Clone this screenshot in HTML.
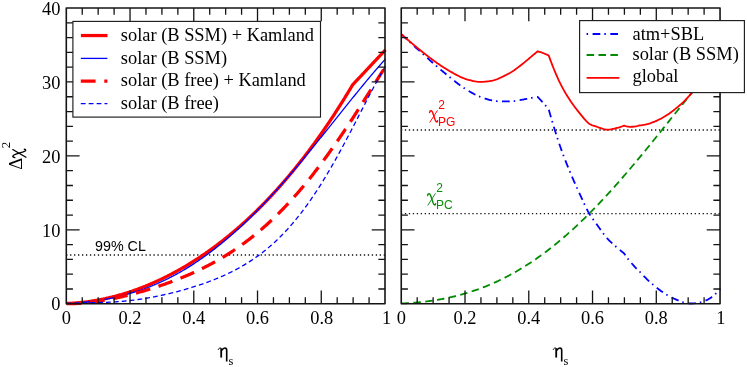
<!DOCTYPE html>
<html><head><meta charset="utf-8"><style>
html,body{margin:0;padding:0;background:#fff;}
svg{display:block;will-change:transform;transform:translateZ(0)}
text{font-family:"Liberation Serif",serif;font-size:18.4px;fill:#000}
.sans{font-family:"Liberation Sans",sans-serif}
</style></head><body>
<svg width="747" height="367" viewBox="0 0 747 367">
<rect width="747" height="367" fill="#fff"/>
<!-- left curves -->
<g fill="none" stroke-linejoin="round">
<path d="M66.3,255.0 H385.0" stroke="#111" stroke-width="1.4" stroke-dasharray="1.3 2.67" stroke-dashoffset="0.2"/>
<path d="M66.50,303.50 L67.30,303.47 L68.09,303.44 L68.89,303.41 L69.69,303.37 L70.49,303.33 L71.28,303.29 L72.08,303.24 L72.88,303.19 L73.68,303.14 L74.47,303.09 L75.27,303.03 L76.07,302.97 L76.87,302.90 L77.67,302.83 L78.46,302.76 L79.26,302.69 L80.06,302.61 L80.86,302.53 L81.65,302.45 L82.45,302.36 L83.25,302.27 L84.05,302.18 L84.84,302.09 L85.64,301.99 L86.44,301.89 L87.23,301.78 L88.03,301.68 L88.83,301.56 L89.63,301.45 L90.42,301.33 L91.22,301.22 L92.02,301.09 L92.82,300.97 L93.62,300.84 L94.41,300.71 L95.21,300.57 L96.01,300.44 L96.81,300.30 L97.60,300.15 L98.40,300.01 L99.20,299.86 L100.00,299.70 L100.79,299.55 L101.59,299.39 L102.39,299.23 L103.19,299.07 L103.98,298.90 L104.78,298.73 L105.58,298.55 L106.38,298.38 L107.17,298.20 L107.97,298.02 L108.77,297.83 L109.56,297.64 L110.36,297.45 L111.16,297.26 L111.96,297.06 L112.75,296.86 L113.55,296.66 L114.35,296.46 L115.15,296.25 L115.94,296.04 L116.74,295.82 L117.54,295.60 L118.34,295.38 L119.14,295.16 L119.93,294.93 L120.73,294.70 L121.53,294.47 L122.33,294.24 L123.12,294.00 L123.92,293.76 L124.72,293.51 L125.52,293.27 L126.31,293.02 L127.11,292.77 L127.91,292.51 L128.71,292.25 L129.50,291.99 L130.30,291.73 L131.10,291.46 L131.90,291.19 L132.69,290.92 L133.49,290.64 L134.29,290.36 L135.08,290.08 L135.88,289.79 L136.68,289.51 L137.48,289.21 L138.28,288.92 L139.07,288.62 L139.87,288.32 L140.67,288.02 L141.47,287.72 L142.26,287.41 L143.06,287.10 L143.86,286.78 L144.66,286.46 L145.45,286.14 L146.25,285.82 L147.05,285.50 L147.84,285.17 L148.64,284.83 L149.44,284.50 L150.24,284.16 L151.04,283.82 L151.83,283.48 L152.63,283.13 L153.43,282.78 L154.23,282.43 L155.02,282.07 L155.82,281.71 L156.62,281.35 L157.42,280.98 L158.21,280.62 L159.01,280.25 L159.81,279.87 L160.60,279.50 L161.40,279.12 L162.20,278.73 L163.00,278.35 L163.80,277.96 L164.59,277.57 L165.39,277.17 L166.19,276.77 L166.99,276.37 L167.78,275.97 L168.58,275.56 L169.38,275.15 L170.18,274.74 L170.97,274.32 L171.77,273.91 L172.57,273.48 L173.37,273.06 L174.16,272.63 L174.96,272.20 L175.76,271.76 L176.56,271.33 L177.35,270.89 L178.15,270.44 L178.95,270.00 L179.75,269.55 L180.54,269.09 L181.34,268.64 L182.14,268.18 L182.94,267.72 L183.73,267.25 L184.53,266.78 L185.33,266.31 L186.12,265.84 L186.92,265.36 L187.72,264.88 L188.52,264.40 L189.31,263.91 L190.11,263.42 L190.91,262.93 L191.71,262.43 L192.50,261.93 L193.30,261.43 L194.10,260.92 L194.90,260.41 L195.70,259.90 L196.49,259.38 L197.29,258.86 L198.09,258.34 L198.89,257.82 L199.68,257.29 L200.48,256.76 L201.28,256.22 L202.07,255.68 L202.87,255.14 L203.67,254.60 L204.47,254.05 L205.26,253.50 L206.06,252.95 L206.86,252.39 L207.66,251.83 L208.46,251.26 L209.25,250.69 L210.05,250.12 L210.85,249.55 L211.65,248.97 L212.44,248.39 L213.24,247.81 L214.04,247.22 L214.84,246.63 L215.63,246.03 L216.43,245.44 L217.23,244.84 L218.03,244.23 L218.82,243.62 L219.62,243.01 L220.42,242.40 L221.22,241.78 L222.01,241.16 L222.81,240.53 L223.61,239.91 L224.41,239.27 L225.20,238.64 L226.00,238.00 L226.80,237.36 L227.59,236.71 L228.39,236.06 L229.19,235.41 L229.99,234.76 L230.78,234.10 L231.58,233.43 L232.38,232.77 L233.18,232.10 L233.97,231.42 L234.77,230.74 L235.57,230.06 L236.37,229.38 L237.17,228.69 L237.96,228.00 L238.76,227.30 L239.56,226.60 L240.36,225.90 L241.15,225.20 L241.95,224.49 L242.75,223.77 L243.55,223.06 L244.34,222.33 L245.14,221.61 L245.94,220.88 L246.74,220.15 L247.53,219.41 L248.33,218.67 L249.13,217.93 L249.93,217.18 L250.72,216.43 L251.52,215.68 L252.32,214.92 L253.11,214.16 L253.91,213.39 L254.71,212.62 L255.51,211.85 L256.30,211.07 L257.10,210.29 L257.90,209.50 L258.70,208.72 L259.50,207.92 L260.29,207.13 L261.09,206.33 L261.89,205.52 L262.69,204.71 L263.48,203.90 L264.28,203.08 L265.08,202.26 L265.88,201.44 L266.67,200.61 L267.47,199.78 L268.27,198.94 L269.06,198.10 L269.86,197.26 L270.66,196.41 L271.46,195.55 L272.25,194.70 L273.05,193.84 L273.85,192.97 L274.65,192.10 L275.45,191.23 L276.24,190.35 L277.04,189.47 L277.84,188.58 L278.63,187.69 L279.43,186.80 L280.23,185.90 L281.03,185.00 L281.83,184.09 L282.62,183.18 L283.42,182.26 L284.22,181.34 L285.01,180.42 L285.81,179.49 L286.61,178.56 L287.41,177.62 L288.21,176.68 L289.00,175.74 L289.80,174.79 L290.60,173.83 L291.39,172.87 L292.19,171.91 L292.99,170.94 L293.79,169.97 L294.58,168.99 L295.38,168.01 L296.18,167.02 L296.98,166.03 L297.77,165.04 L298.57,164.04 L299.37,163.04 L300.17,162.03 L300.97,161.02 L301.76,160.00 L302.56,158.98 L303.36,157.95 L304.15,156.92 L304.95,155.88 L305.75,154.84 L306.55,153.79 L307.35,152.74 L308.14,151.69 L308.94,150.63 L309.74,149.56 L310.53,148.50 L311.33,147.42 L312.13,146.34 L312.93,145.26 L313.73,144.17 L314.52,143.08 L315.32,141.98 L316.12,140.87 L316.92,139.77 L317.71,138.65 L318.51,137.54 L319.31,136.41 L320.11,135.28 L320.90,134.15 L321.70,133.01 L322.50,131.87 L323.30,130.72 L324.09,129.57 L324.89,128.41 L325.69,127.25 L326.49,126.08 L327.28,124.91 L328.08,123.73 L328.88,122.54 L329.68,121.35 L330.47,120.16 L331.27,118.96 L332.07,117.76 L332.87,116.55 L333.66,115.33 L334.46,114.11 L335.26,112.88 L336.06,111.65 L336.85,110.42 L337.65,109.17 L338.45,107.93 L339.25,106.67 L340.04,105.42 L340.84,104.15 L341.64,102.88 L342.44,101.61 L343.23,100.33 L344.03,99.04 L344.83,97.75 L345.62,96.46 L346.42,95.15 L347.22,93.85 L348.02,92.53 L348.81,91.21 L349.61,89.89 L350.41,88.56 L351.21,87.22 L352.00,85.88 L352.80,84.63 L353.60,83.78 L354.40,82.93 L355.19,82.08 L355.99,81.23 L356.79,80.38 L357.59,79.54 L358.38,78.69 L359.18,77.84 L359.98,76.99 L360.78,76.14 L361.57,75.29 L362.37,74.44 L363.17,73.59 L363.97,72.74 L364.77,71.89 L365.56,71.04 L366.36,70.19 L367.16,69.34 L367.96,68.49 L368.75,67.64 L369.55,66.79 L370.35,65.94 L371.15,65.09 L371.94,64.24 L372.74,63.39 L373.54,62.54 L374.33,61.69 L375.13,60.84 L375.93,59.99 L376.73,59.15 L377.52,58.30 L378.32,57.45 L379.12,56.60 L379.92,55.75 L380.71,54.90 L381.51,54.05 L382.31,53.20 L383.11,52.35 L383.90,51.50 L384.70,50.65 L385.50,49.80" stroke="#f00" stroke-width="3.25"/>
<path d="M66.50,303.50 L67.30,303.46 L68.09,303.42 L68.89,303.38 L69.69,303.34 L70.49,303.30 L71.28,303.25 L72.08,303.20 L72.88,303.15 L73.68,303.10 L74.47,303.05 L75.27,302.99 L76.07,302.94 L76.87,302.88 L77.67,302.82 L78.46,302.75 L79.26,302.69 L80.06,302.62 L80.86,302.55 L81.65,302.48 L82.45,302.41 L83.25,302.33 L84.05,302.26 L84.84,302.18 L85.64,302.09 L86.44,302.01 L87.23,301.92 L88.03,301.83 L88.83,301.74 L89.63,301.65 L90.42,301.56 L91.22,301.46 L92.02,301.36 L92.82,301.25 L93.62,301.15 L94.41,301.04 L95.21,300.93 L96.01,300.82 L96.81,300.71 L97.60,300.59 L98.40,300.47 L99.20,300.35 L100.00,300.22 L100.79,300.10 L101.59,299.97 L102.39,299.84 L103.19,299.70 L103.98,299.56 L104.78,299.42 L105.58,299.28 L106.38,299.14 L107.17,298.99 L107.97,298.84 L108.77,298.68 L109.56,298.53 L110.36,298.37 L111.16,298.21 L111.96,298.04 L112.75,297.87 L113.55,297.70 L114.35,297.53 L115.15,297.36 L115.94,297.18 L116.74,297.00 L117.54,296.81 L118.34,296.62 L119.14,296.43 L119.93,296.24 L120.73,296.04 L121.53,295.85 L122.33,295.64 L123.12,295.44 L123.92,295.23 L124.72,295.02 L125.52,294.80 L126.31,294.59 L127.11,294.37 L127.91,294.14 L128.71,293.92 L129.50,293.69 L130.30,293.45 L131.10,293.22 L131.90,292.98 L132.69,292.74 L133.49,292.49 L134.29,292.24 L135.08,291.99 L135.88,291.73 L136.68,291.48 L137.48,291.21 L138.28,290.95 L139.07,290.68 L139.87,290.41 L140.67,290.13 L141.47,289.85 L142.26,289.57 L143.06,289.29 L143.86,289.00 L144.66,288.71 L145.45,288.41 L146.25,288.11 L147.05,287.81 L147.84,287.50 L148.64,287.20 L149.44,286.88 L150.24,286.57 L151.04,286.25 L151.83,285.92 L152.63,285.60 L153.43,285.27 L154.23,284.93 L155.02,284.60 L155.82,284.26 L156.62,283.91 L157.42,283.57 L158.21,283.21 L159.01,282.86 L159.81,282.50 L160.60,282.14 L161.40,281.77 L162.20,281.40 L163.00,281.03 L163.80,280.65 L164.59,280.27 L165.39,279.89 L166.19,279.50 L166.99,279.11 L167.78,278.72 L168.58,278.32 L169.38,277.92 L170.18,277.51 L170.97,277.10 L171.77,276.69 L172.57,276.27 L173.37,275.85 L174.16,275.43 L174.96,275.00 L175.76,274.57 L176.56,274.13 L177.35,273.69 L178.15,273.25 L178.95,272.80 L179.75,272.35 L180.54,271.90 L181.34,271.44 L182.14,270.97 L182.94,270.51 L183.73,270.04 L184.53,269.57 L185.33,269.09 L186.12,268.61 L186.92,268.12 L187.72,267.63 L188.52,267.14 L189.31,266.65 L190.11,266.14 L190.91,265.64 L191.71,265.13 L192.50,264.62 L193.30,264.11 L194.10,263.59 L194.90,263.06 L195.70,262.54 L196.49,262.01 L197.29,261.47 L198.09,260.93 L198.89,260.39 L199.68,259.84 L200.48,259.29 L201.28,258.74 L202.07,258.18 L202.87,257.62 L203.67,257.06 L204.47,256.49 L205.26,255.91 L206.06,255.34 L206.86,254.76 L207.66,254.17 L208.46,253.58 L209.25,252.99 L210.05,252.40 L210.85,251.80 L211.65,251.19 L212.44,250.59 L213.24,249.97 L214.04,249.36 L214.84,248.74 L215.63,248.12 L216.43,247.49 L217.23,246.86 L218.03,246.23 L218.82,245.59 L219.62,244.95 L220.42,244.30 L221.22,243.65 L222.01,243.00 L222.81,242.34 L223.61,241.68 L224.41,241.02 L225.20,240.35 L226.00,239.68 L226.80,239.01 L227.59,238.33 L228.39,237.64 L229.19,236.96 L229.99,236.27 L230.78,235.57 L231.58,234.88 L232.38,234.18 L233.18,233.47 L233.97,232.76 L234.77,232.05 L235.57,231.33 L236.37,230.62 L237.17,229.89 L237.96,229.17 L238.76,228.44 L239.56,227.70 L240.36,226.97 L241.15,226.22 L241.95,225.48 L242.75,224.73 L243.55,223.98 L244.34,223.23 L245.14,222.47 L245.94,221.71 L246.74,220.94 L247.53,220.17 L248.33,219.40 L249.13,218.63 L249.93,217.85 L250.72,217.07 L251.52,216.28 L252.32,215.49 L253.11,214.70 L253.91,213.90 L254.71,213.10 L255.51,212.30 L256.30,211.50 L257.10,210.69 L257.90,209.88 L258.70,209.06 L259.50,208.24 L260.29,207.42 L261.09,206.60 L261.89,205.77 L262.69,204.94 L263.48,204.10 L264.28,203.26 L265.08,202.42 L265.88,201.58 L266.67,200.73 L267.47,199.89 L268.27,199.03 L269.06,198.18 L269.86,197.32 L270.66,196.46 L271.46,195.59 L272.25,194.73 L273.05,193.86 L273.85,192.98 L274.65,192.11 L275.45,191.23 L276.24,190.35 L277.04,189.47 L277.84,188.58 L278.63,187.69 L279.43,186.80 L280.23,185.90 L281.03,185.01 L281.83,184.11 L282.62,183.20 L283.42,182.30 L284.22,181.39 L285.01,180.48 L285.81,179.57 L286.61,178.65 L287.41,177.74 L288.21,176.82 L289.00,175.90 L289.80,174.97 L290.60,174.05 L291.39,173.12 L292.19,172.19 L292.99,171.25 L293.79,170.32 L294.58,169.38 L295.38,168.44 L296.18,167.50 L296.98,166.55 L297.77,165.61 L298.57,164.66 L299.37,163.71 L300.17,162.76 L300.97,161.81 L301.76,160.85 L302.56,159.89 L303.36,158.94 L304.15,157.98 L304.95,157.01 L305.75,156.05 L306.55,155.08 L307.35,154.12 L308.14,153.15 L308.94,152.18 L309.74,151.21 L310.53,150.23 L311.33,149.26 L312.13,148.28 L312.93,147.31 L313.73,146.33 L314.52,145.35 L315.32,144.37 L316.12,143.38 L316.92,142.40 L317.71,141.42 L318.51,140.43 L319.31,139.44 L320.11,138.46 L320.90,137.47 L321.70,136.48 L322.50,135.49 L323.30,134.50 L324.09,133.51 L324.89,132.52 L325.69,131.52 L326.49,130.53 L327.28,129.53 L328.08,128.54 L328.88,127.54 L329.68,126.55 L330.47,125.55 L331.27,124.56 L332.07,123.56 L332.87,122.56 L333.66,121.57 L334.46,120.57 L335.26,119.57 L336.06,118.57 L336.85,117.58 L337.65,116.58 L338.45,115.58 L339.25,114.58 L340.04,113.59 L340.84,112.59 L341.64,111.59 L342.44,110.60 L343.23,109.60 L344.03,108.61 L344.83,107.61 L345.62,106.62 L346.42,105.63 L347.22,104.63 L348.02,103.64 L348.81,102.65 L349.61,101.66 L350.41,100.67 L351.21,99.68 L352.00,98.69 L352.80,97.71 L353.60,96.72 L354.40,95.74 L355.19,94.75 L355.99,93.77 L356.79,92.79 L357.59,91.81 L358.38,90.83 L359.18,89.86 L359.98,88.88 L360.78,87.91 L361.57,86.94 L362.37,85.97 L363.17,85.00 L363.97,84.04 L364.77,83.07 L365.56,82.11 L366.36,81.15 L367.16,80.19 L367.96,79.24 L368.75,78.29 L369.55,77.33 L370.35,76.39 L371.15,75.44 L371.94,74.50 L372.74,73.56 L373.54,72.62 L374.33,71.68 L375.13,70.75 L375.93,69.82 L376.73,68.90 L377.52,67.97 L378.32,67.05 L379.12,66.13 L379.92,65.22 L380.71,64.31 L381.51,63.40 L382.31,62.50 L383.11,61.60 L383.90,60.70 L384.70,59.81 L385.50,58.92" stroke="#00f" stroke-width="1.3"/>
<path d="M66.50,303.50 L67.30,303.53 L68.09,303.55 L68.89,303.57 L69.69,303.58 L70.49,303.59 L71.28,303.59 L72.08,303.59 L72.88,303.58 L73.68,303.57 L74.47,303.55 L75.27,303.53 L76.07,303.51 L76.87,303.48 L77.67,303.44 L78.46,303.41 L79.26,303.37 L80.06,303.32 L80.86,303.27 L81.65,303.22 L82.45,303.16 L83.25,303.10 L84.05,303.04 L84.84,302.97 L85.64,302.90 L86.44,302.82 L87.23,302.75 L88.03,302.66 L88.83,302.58 L89.63,302.49 L90.42,302.40 L91.22,302.31 L92.02,302.21 L92.82,302.11 L93.62,302.00 L94.41,301.90 L95.21,301.79 L96.01,301.67 L96.81,301.56 L97.60,301.44 L98.40,301.32 L99.20,301.20 L100.00,301.07 L100.79,300.94 L101.59,300.81 L102.39,300.68 L103.19,300.54 L103.98,300.40 L104.78,300.26 L105.58,300.12 L106.38,299.97 L107.17,299.82 L107.97,299.67 L108.77,299.52 L109.56,299.36 L110.36,299.21 L111.16,299.05 L111.96,298.89 L112.75,298.72 L113.55,298.56 L114.35,298.39 L115.15,298.22 L115.94,298.05 L116.74,297.87 L117.54,297.70 L118.34,297.52 L119.14,297.34 L119.93,297.16 L120.73,296.97 L121.53,296.79 L122.33,296.60 L123.12,296.41 L123.92,296.22 L124.72,296.03 L125.52,295.83 L126.31,295.63 L127.11,295.44 L127.91,295.24 L128.71,295.03 L129.50,294.83 L130.30,294.62 L131.10,294.42 L131.90,294.21 L132.69,294.00 L133.49,293.79 L134.29,293.57 L135.08,293.36 L135.88,293.14 L136.68,292.92 L137.48,292.70 L138.28,292.48 L139.07,292.25 L139.87,292.03 L140.67,291.80 L141.47,291.57 L142.26,291.34 L143.06,291.11 L143.86,290.87 L144.66,290.64 L145.45,290.40 L146.25,290.16 L147.05,289.92 L147.84,289.68 L148.64,289.43 L149.44,289.19 L150.24,288.94 L151.04,288.69 L151.83,288.44 L152.63,288.19 L153.43,287.93 L154.23,287.68 L155.02,287.42 L155.82,287.16 L156.62,286.90 L157.42,286.64 L158.21,286.37 L159.01,286.10 L159.81,285.84 L160.60,285.57 L161.40,285.29 L162.20,285.02 L163.00,284.74 L163.80,284.47 L164.59,284.19 L165.39,283.91 L166.19,283.62 L166.99,283.34 L167.78,283.05 L168.58,282.76 L169.38,282.47 L170.18,282.18 L170.97,281.88 L171.77,281.58 L172.57,281.28 L173.37,280.98 L174.16,280.68 L174.96,280.37 L175.76,280.07 L176.56,279.76 L177.35,279.44 L178.15,279.13 L178.95,278.81 L179.75,278.49 L180.54,278.17 L181.34,277.85 L182.14,277.53 L182.94,277.20 L183.73,276.87 L184.53,276.53 L185.33,276.20 L186.12,275.86 L186.92,275.52 L187.72,275.18 L188.52,274.84 L189.31,274.49 L190.11,274.14 L190.91,273.79 L191.71,273.43 L192.50,273.07 L193.30,272.71 L194.10,272.35 L194.90,271.99 L195.70,271.62 L196.49,271.25 L197.29,270.87 L198.09,270.50 L198.89,270.12 L199.68,269.74 L200.48,269.35 L201.28,268.96 L202.07,268.57 L202.87,268.18 L203.67,267.78 L204.47,267.38 L205.26,266.98 L206.06,266.57 L206.86,266.17 L207.66,265.75 L208.46,265.34 L209.25,264.92 L210.05,264.50 L210.85,264.07 L211.65,263.65 L212.44,263.22 L213.24,262.78 L214.04,262.34 L214.84,261.90 L215.63,261.46 L216.43,261.01 L217.23,260.56 L218.03,260.10 L218.82,259.64 L219.62,259.18 L220.42,258.72 L221.22,258.25 L222.01,257.77 L222.81,257.30 L223.61,256.82 L224.41,256.33 L225.20,255.85 L226.00,255.36 L226.80,254.86 L227.59,254.36 L228.39,253.86 L229.19,253.35 L229.99,252.84 L230.78,252.33 L231.58,251.81 L232.38,251.29 L233.18,250.76 L233.97,250.23 L234.77,249.70 L235.57,249.16 L236.37,248.61 L237.17,248.07 L237.96,247.52 L238.76,246.96 L239.56,246.40 L240.36,245.84 L241.15,245.27 L241.95,244.70 L242.75,244.12 L243.55,243.54 L244.34,242.96 L245.14,242.37 L245.94,241.77 L246.74,241.17 L247.53,240.57 L248.33,239.96 L249.13,239.35 L249.93,238.74 L250.72,238.11 L251.52,237.49 L252.32,236.86 L253.11,236.22 L253.91,235.58 L254.71,234.94 L255.51,234.29 L256.30,233.64 L257.10,232.98 L257.90,232.32 L258.70,231.65 L259.50,230.98 L260.29,230.30 L261.09,229.62 L261.89,228.93 L262.69,228.24 L263.48,227.54 L264.28,226.84 L265.08,226.13 L265.88,225.42 L266.67,224.71 L267.47,223.99 L268.27,223.26 L269.06,222.53 L269.86,221.79 L270.66,221.05 L271.46,220.30 L272.25,219.55 L273.05,218.80 L273.85,218.03 L274.65,217.27 L275.45,216.50 L276.24,215.72 L277.04,214.94 L277.84,214.15 L278.63,213.36 L279.43,212.56 L280.23,211.76 L281.03,210.95 L281.83,210.14 L282.62,209.32 L283.42,208.50 L284.22,207.67 L285.01,206.84 L285.81,206.00 L286.61,205.16 L287.41,204.31 L288.21,203.45 L289.00,202.59 L289.80,201.73 L290.60,200.86 L291.39,199.98 L292.19,199.10 L292.99,198.22 L293.79,197.33 L294.58,196.43 L295.38,195.53 L296.18,194.63 L296.98,193.71 L297.77,192.80 L298.57,191.88 L299.37,190.95 L300.17,190.02 L300.97,189.08 L301.76,188.14 L302.56,187.19 L303.36,186.24 L304.15,185.28 L304.95,184.32 L305.75,183.35 L306.55,182.38 L307.35,181.40 L308.14,180.42 L308.94,179.43 L309.74,178.43 L310.53,177.44 L311.33,176.43 L312.13,175.42 L312.93,174.41 L313.73,173.39 L314.52,172.37 L315.32,171.34 L316.12,170.31 L316.92,169.27 L317.71,168.23 L318.51,167.18 L319.31,166.13 L320.11,165.07 L320.90,164.01 L321.70,162.94 L322.50,161.87 L323.30,160.80 L324.09,159.72 L324.89,158.63 L325.69,157.54 L326.49,156.45 L327.28,155.35 L328.08,154.25 L328.88,153.14 L329.68,152.03 L330.47,150.91 L331.27,149.79 L332.07,148.67 L332.87,147.54 L333.66,146.40 L334.46,145.27 L335.26,144.13 L336.06,142.98 L336.85,141.83 L337.65,140.68 L338.45,139.52 L339.25,138.36 L340.04,137.19 L340.84,136.02 L341.64,134.85 L342.44,133.67 L343.23,132.49 L344.03,131.31 L344.83,130.12 L345.62,128.93 L346.42,127.74 L347.22,126.54 L348.02,125.34 L348.81,124.13 L349.61,122.93 L350.41,121.72 L351.21,120.50 L352.00,119.29 L352.80,118.07 L353.60,116.84 L354.40,115.62 L355.19,114.39 L355.99,113.16 L356.79,111.93 L357.59,110.69 L358.38,109.45 L359.18,108.21 L359.98,106.97 L360.78,105.72 L361.57,104.48 L362.37,103.23 L363.17,101.97 L363.97,100.72 L364.77,99.47 L365.56,98.21 L366.36,96.95 L367.16,95.69 L367.96,94.43 L368.75,93.16 L369.55,91.90 L370.35,90.63 L371.15,89.37 L371.94,88.10 L372.74,86.83 L373.54,85.56 L374.33,84.29 L375.13,83.02 L375.93,81.75 L376.73,80.48 L377.52,79.20 L378.32,77.93 L379.12,76.66 L379.92,75.38 L380.71,74.11 L381.51,72.84 L382.31,71.57 L383.11,70.29 L383.90,69.02 L384.70,67.75 L385.50,66.48" stroke="#f00" stroke-width="3.25" stroke-dasharray="14.8 8.7"/>
<path d="M66.50,303.50 L67.30,303.44 L68.09,303.38 L68.89,303.33 L69.69,303.28 L70.49,303.23 L71.28,303.18 L72.08,303.14 L72.88,303.11 L73.68,303.07 L74.47,303.04 L75.27,303.01 L76.07,302.98 L76.87,302.96 L77.67,302.93 L78.46,302.91 L79.26,302.89 L80.06,302.87 L80.86,302.86 L81.65,302.84 L82.45,302.83 L83.25,302.81 L84.05,302.80 L84.84,302.79 L85.64,302.77 L86.44,302.76 L87.23,302.75 L88.03,302.74 L88.83,302.73 L89.63,302.71 L90.42,302.70 L91.22,302.69 L92.02,302.68 L92.82,302.67 L93.62,302.65 L94.41,302.64 L95.21,302.63 L96.01,302.61 L96.81,302.59 L97.60,302.58 L98.40,302.56 L99.20,302.54 L100.00,302.52 L100.79,302.50 L101.59,302.48 L102.39,302.45 L103.19,302.43 L103.98,302.40 L104.78,302.37 L105.58,302.34 L106.38,302.31 L107.17,302.28 L107.97,302.25 L108.77,302.21 L109.56,302.17 L110.36,302.13 L111.16,302.09 L111.96,302.05 L112.75,302.00 L113.55,301.96 L114.35,301.91 L115.15,301.86 L115.94,301.80 L116.74,301.75 L117.54,301.69 L118.34,301.63 L119.14,301.57 L119.93,301.51 L120.73,301.45 L121.53,301.38 L122.33,301.31 L123.12,301.24 L123.92,301.17 L124.72,301.09 L125.52,301.01 L126.31,300.93 L127.11,300.85 L127.91,300.77 L128.71,300.68 L129.50,300.60 L130.30,300.51 L131.10,300.41 L131.90,300.32 L132.69,300.22 L133.49,300.12 L134.29,300.02 L135.08,299.92 L135.88,299.81 L136.68,299.71 L137.48,299.60 L138.28,299.49 L139.07,299.37 L139.87,299.26 L140.67,299.14 L141.47,299.02 L142.26,298.90 L143.06,298.77 L143.86,298.64 L144.66,298.52 L145.45,298.39 L146.25,298.25 L147.05,298.12 L147.84,297.98 L148.64,297.84 L149.44,297.70 L150.24,297.56 L151.04,297.41 L151.83,297.27 L152.63,297.12 L153.43,296.97 L154.23,296.82 L155.02,296.66 L155.82,296.50 L156.62,296.35 L157.42,296.19 L158.21,296.02 L159.01,295.86 L159.81,295.69 L160.60,295.52 L161.40,295.35 L162.20,295.18 L163.00,295.01 L163.80,294.83 L164.59,294.65 L165.39,294.47 L166.19,294.29 L166.99,294.11 L167.78,293.92 L168.58,293.74 L169.38,293.55 L170.18,293.36 L170.97,293.16 L171.77,292.97 L172.57,292.77 L173.37,292.57 L174.16,292.37 L174.96,292.17 L175.76,291.97 L176.56,291.76 L177.35,291.55 L178.15,291.34 L178.95,291.13 L179.75,290.92 L180.54,290.70 L181.34,290.48 L182.14,290.26 L182.94,290.04 L183.73,289.82 L184.53,289.59 L185.33,289.37 L186.12,289.14 L186.92,288.90 L187.72,288.67 L188.52,288.44 L189.31,288.20 L190.11,287.96 L190.91,287.72 L191.71,287.47 L192.50,287.23 L193.30,286.98 L194.10,286.73 L194.90,286.47 L195.70,286.22 L196.49,285.96 L197.29,285.70 L198.09,285.44 L198.89,285.18 L199.68,284.91 L200.48,284.64 L201.28,284.37 L202.07,284.09 L202.87,283.82 L203.67,283.54 L204.47,283.26 L205.26,282.97 L206.06,282.69 L206.86,282.40 L207.66,282.10 L208.46,281.81 L209.25,281.51 L210.05,281.21 L210.85,280.91 L211.65,280.60 L212.44,280.29 L213.24,279.98 L214.04,279.66 L214.84,279.34 L215.63,279.02 L216.43,278.70 L217.23,278.37 L218.03,278.04 L218.82,277.70 L219.62,277.36 L220.42,277.02 L221.22,276.68 L222.01,276.33 L222.81,275.98 L223.61,275.62 L224.41,275.26 L225.20,274.90 L226.00,274.53 L226.80,274.16 L227.59,273.78 L228.39,273.40 L229.19,273.02 L229.99,272.63 L230.78,272.24 L231.58,271.84 L232.38,271.44 L233.18,271.04 L233.97,270.63 L234.77,270.22 L235.57,269.80 L236.37,269.37 L237.17,268.95 L237.96,268.51 L238.76,268.08 L239.56,267.63 L240.36,267.19 L241.15,266.73 L241.95,266.28 L242.75,265.81 L243.55,265.34 L244.34,264.87 L245.14,264.39 L245.94,263.91 L246.74,263.42 L247.53,262.92 L248.33,262.42 L249.13,261.91 L249.93,261.40 L250.72,260.88 L251.52,260.36 L252.32,259.83 L253.11,259.29 L253.91,258.74 L254.71,258.19 L255.51,257.64 L256.30,257.08 L257.10,256.51 L257.90,255.93 L258.70,255.35 L259.50,254.76 L260.29,254.16 L261.09,253.56 L261.89,252.95 L262.69,252.33 L263.48,251.71 L264.28,251.08 L265.08,250.44 L265.88,249.79 L266.67,249.14 L267.47,248.48 L268.27,247.81 L269.06,247.13 L269.86,246.45 L270.66,245.76 L271.46,245.06 L272.25,244.35 L273.05,243.63 L273.85,242.91 L274.65,242.18 L275.45,241.44 L276.24,240.69 L277.04,239.94 L277.84,239.17 L278.63,238.40 L279.43,237.62 L280.23,236.83 L281.03,236.03 L281.83,235.22 L282.62,234.41 L283.42,233.58 L284.22,232.75 L285.01,231.90 L285.81,231.05 L286.61,230.19 L287.41,229.32 L288.21,228.45 L289.00,227.56 L289.80,226.66 L290.60,225.76 L291.39,224.84 L292.19,223.92 L292.99,222.98 L293.79,222.04 L294.58,221.09 L295.38,220.13 L296.18,219.15 L296.98,218.17 L297.77,217.18 L298.57,216.18 L299.37,215.17 L300.17,214.16 L300.97,213.13 L301.76,212.09 L302.56,211.04 L303.36,209.98 L304.15,208.92 L304.95,207.84 L305.75,206.75 L306.55,205.66 L307.35,204.55 L308.14,203.44 L308.94,202.31 L309.74,201.18 L310.53,200.04 L311.33,198.88 L312.13,197.72 L312.93,196.55 L313.73,195.37 L314.52,194.17 L315.32,192.97 L316.12,191.76 L316.92,190.54 L317.71,189.32 L318.51,188.08 L319.31,186.83 L320.11,185.57 L320.90,184.31 L321.70,183.03 L322.50,181.75 L323.30,180.46 L324.09,179.16 L324.89,177.84 L325.69,176.53 L326.49,175.20 L327.28,173.86 L328.08,172.52 L328.88,171.17 L329.68,169.80 L330.47,168.44 L331.27,167.06 L332.07,165.67 L332.87,164.28 L333.66,162.88 L334.46,161.47 L335.26,160.06 L336.06,158.63 L336.85,157.20 L337.65,155.77 L338.45,154.32 L339.25,152.87 L340.04,151.42 L340.84,149.96 L341.64,148.49 L342.44,147.01 L343.23,145.53 L344.03,144.05 L344.83,142.55 L345.62,141.06 L346.42,139.56 L347.22,138.05 L348.02,136.54 L348.81,135.02 L349.61,133.50 L350.41,131.98 L351.21,130.45 L352.00,128.92 L352.80,127.39 L353.60,125.86 L354.40,124.32 L355.19,122.78 L355.99,121.24 L356.79,119.69 L357.59,118.15 L358.38,116.60 L359.18,115.05 L359.98,113.51 L360.78,111.96 L361.57,110.41 L362.37,108.86 L363.17,107.32 L363.97,105.77 L364.77,104.23 L365.56,102.69 L366.36,101.15 L367.16,99.62 L367.96,98.08 L368.75,96.56 L369.55,95.03 L370.35,93.51 L371.15,92.00 L371.94,90.49 L372.74,88.98 L373.54,87.49 L374.33,86.00 L375.13,84.51 L375.93,83.04 L376.73,81.57 L377.52,80.11 L378.32,78.66 L379.12,77.22 L379.92,75.79 L380.71,74.37 L381.51,72.96 L382.31,71.57 L383.11,70.18 L383.90,68.81 L384.70,67.46 L385.50,66.12" stroke="#00f" stroke-width="1.3" stroke-dasharray="4.8 3.1"/>
</g>
<!-- right curves -->
<g fill="none" stroke-linejoin="round">
<path d="M401.25,130.0 H720.05" stroke="#111" stroke-width="1.4" stroke-dasharray="1.3 2.67" stroke-dashoffset="0.36"/>
<path d="M401.25,213.65 H720.05" stroke="#111" stroke-width="1.4" stroke-dasharray="1.3 2.67" stroke-dashoffset="0.36"/>
<path d="M401.50,34.31 L402.31,35.07 L403.11,35.82 L403.92,36.58 L404.72,37.33 L405.53,38.08 L406.33,38.83 L407.14,39.58 L407.95,40.32 L408.75,41.07 L409.56,41.82 L410.36,42.56 L411.17,43.30 L411.98,44.04 L412.78,44.78 L413.59,45.52 L414.39,46.26 L415.20,46.99 L416.00,47.73 L416.81,48.46 L417.62,49.19 L418.42,49.92 L419.23,50.65 L420.03,51.38 L420.84,52.10 L421.65,52.83 L422.45,53.55 L423.26,54.28 L424.06,55.01 L424.87,55.73 L425.67,56.46 L426.48,57.19 L427.29,57.92 L428.09,58.64 L428.90,59.37 L429.70,60.09 L430.51,60.82 L431.31,61.54 L432.12,62.26 L432.93,62.97 L433.73,63.69 L434.54,64.40 L435.34,65.11 L436.15,65.81 L436.96,66.52 L437.76,67.21 L438.57,67.91 L439.37,68.60 L440.18,69.28 L440.98,69.96 L441.79,70.64 L442.60,71.31 L443.40,71.97 L444.21,72.63 L445.01,73.29 L445.82,73.95 L446.63,74.61 L447.43,75.27 L448.24,75.93 L449.04,76.59 L449.85,77.25 L450.65,77.91 L451.46,78.57 L452.27,79.22 L453.07,79.87 L453.88,80.52 L454.68,81.16 L455.49,81.80 L456.29,82.43 L457.10,83.06 L457.91,83.67 L458.71,84.28 L459.52,84.89 L460.32,85.48 L461.13,86.06 L461.94,86.63 L462.74,87.19 L463.55,87.74 L464.35,88.28 L465.16,88.81 L465.96,89.32 L466.77,89.81 L467.58,90.30 L468.38,90.77 L469.19,91.25 L469.99,91.72 L470.80,92.19 L471.61,92.65 L472.41,93.11 L473.22,93.55 L474.02,93.99 L474.83,94.42 L475.63,94.84 L476.44,95.24 L477.25,95.63 L478.05,96.00 L478.86,96.36 L479.66,96.70 L480.47,97.02 L481.27,97.32 L482.08,97.59 L482.89,97.85 L483.69,98.11 L484.50,98.36 L485.30,98.62 L486.11,98.87 L486.92,99.12 L487.72,99.36 L488.53,99.60 L489.33,99.82 L490.14,100.04 L490.94,100.24 L491.75,100.43 L492.56,100.61 L493.36,100.77 L494.17,100.91 L494.97,101.03 L495.78,101.13 L496.59,101.20 L497.39,101.26 L498.20,101.28 L499.00,101.30 L499.81,101.32 L500.61,101.33 L501.42,101.35 L502.23,101.36 L503.03,101.37 L503.84,101.38 L504.64,101.39 L505.45,101.40 L506.25,101.41 L507.06,101.42 L507.87,101.42 L508.67,101.42 L509.48,101.42 L510.28,101.42 L511.09,101.40 L511.90,101.35 L512.70,101.27 L513.51,101.18 L514.31,101.07 L515.12,100.95 L515.92,100.82 L516.73,100.68 L517.54,100.54 L518.34,100.39 L519.15,100.25 L519.95,100.11 L520.76,99.97 L521.56,99.84 L522.37,99.70 L523.18,99.56 L523.98,99.40 L524.79,99.24 L525.59,99.08 L526.40,98.92 L527.21,98.76 L528.01,98.59 L528.82,98.43 L529.62,98.28 L530.43,98.13 L531.23,97.98 L532.04,97.85 L532.85,97.72 L533.65,97.59 L534.46,97.47 L535.26,97.34 L536.07,97.23 L536.88,97.11 L537.68,97.00 L538.61,97.92 L539.53,98.86 L540.46,99.83 L541.38,100.82 L542.31,101.83 L543.23,102.86 L544.16,103.91 L545.08,104.99 L546.01,106.09 L546.93,107.22 L547.86,108.37 L548.78,109.54 L549.59,112.43 L550.40,115.29 L551.21,118.11 L552.02,120.89 L552.83,123.62 L553.65,126.30 L554.46,128.93 L555.27,131.51 L556.08,134.06 L556.89,136.58 L557.70,139.06 L558.51,141.51 L559.32,143.92 L560.13,146.28 L560.94,148.60 L561.75,150.87 L562.56,153.09 L563.37,155.26 L564.18,157.40 L564.99,159.50 L565.80,161.57 L566.61,163.61 L567.42,165.63 L568.24,167.62 L569.05,169.58 L569.86,171.53 L570.67,173.46 L571.48,175.38 L572.29,177.28 L573.10,179.18 L573.91,181.05 L574.72,182.89 L575.53,184.71 L576.34,186.50 L577.15,188.28 L577.96,190.05 L578.77,191.81 L579.58,193.58 L580.39,195.35 L581.20,197.14 L582.01,198.94 L582.82,200.75 L583.64,202.54 L584.45,204.28 L585.26,205.96 L586.07,207.62 L586.88,209.25 L587.69,210.84 L588.50,212.35 L589.31,213.76 L590.12,215.07 L590.93,216.30 L591.74,217.48 L592.55,218.62 L593.36,219.72 L594.17,220.81 L594.98,221.90 L595.79,223.00 L596.60,224.12 L597.41,225.26 L598.22,226.41 L599.04,227.56 L599.85,228.72 L600.66,229.87 L601.47,231.01 L602.28,232.14 L603.09,233.24 L603.90,234.33 L604.71,235.38 L605.52,236.39 L606.33,237.37 L607.14,238.30 L607.95,239.18 L608.76,240.03 L609.57,240.85 L610.38,241.64 L611.19,242.40 L612.00,243.15 L612.81,243.88 L613.63,244.59 L614.44,245.30 L615.25,246.01 L616.06,246.71 L616.87,247.41 L617.68,248.12 L618.49,248.81 L619.30,249.49 L620.11,250.17 L620.92,250.84 L621.73,251.50 L622.54,252.15 L623.35,252.79 L624.16,253.42 L625.01,254.68 L625.86,255.91 L626.71,257.11 L627.56,258.27 L628.42,259.40 L629.27,260.49 L630.12,261.53 L630.97,262.54 L631.82,263.53 L632.67,264.50 L633.52,265.45 L634.37,266.38 L635.22,267.28 L636.07,268.16 L636.92,269.00 L637.77,269.82 L638.62,270.60 L639.47,271.35 L640.28,272.24 L641.09,273.13 L641.90,274.01 L642.72,274.88 L643.53,275.73 L644.34,276.58 L645.15,277.41 L645.96,278.22 L646.77,279.02 L647.58,279.81 L648.39,280.57 L649.20,281.32 L650.01,282.06 L650.82,282.77 L651.63,283.48 L652.44,284.18 L653.25,284.87 L654.06,285.56 L654.87,286.23 L655.68,286.90 L656.49,287.56 L657.30,288.20 L658.11,288.83 L658.92,289.46 L659.73,290.07 L660.54,290.66 L661.35,291.25 L662.16,291.82 L662.97,292.37 L663.78,292.91 L664.59,293.44 L665.40,293.95 L666.21,294.44 L667.02,294.93 L667.83,295.41 L668.64,295.87 L669.45,296.33 L670.26,296.77 L671.07,297.19 L671.88,297.60 L672.69,298.00 L673.50,298.38 L674.32,298.74 L675.13,299.10 L675.94,299.45 L676.75,299.80 L677.56,300.15 L678.37,300.49 L679.18,300.83 L679.99,301.15 L680.80,301.45 L681.61,301.74 L682.42,302.00 L683.23,302.25 L684.04,302.46 L684.85,302.65 L685.66,302.81 L686.47,302.96 L687.28,303.11 L688.09,303.24 L688.90,303.36 L689.71,303.44 L690.52,303.49 L691.33,303.50 L692.14,303.47 L692.95,303.42 L693.76,303.36 L694.57,303.27 L695.38,303.17 L696.19,303.06 L697.00,302.94 L697.81,302.82 L698.62,302.69 L699.43,302.53 L700.24,302.35 L701.05,302.14 L701.86,301.91 L702.67,301.65 L703.48,301.38 L704.29,301.08 L705.11,300.76 L705.92,300.43 L706.73,300.08 L707.54,299.68 L708.35,299.25 L709.16,298.77 L709.97,298.27 L710.78,297.72 L711.59,297.15 L712.40,296.53 L713.21,295.89 L714.02,295.21 L714.83,294.51 L715.64,293.77 L716.45,293.00 L717.26,292.20 L718.07,291.38 L718.88,290.53 L719.69,289.65 L720.50,288.75" stroke="#00f" stroke-width="1.8" stroke-dasharray="1.5 4.5 7.7 4.0" stroke-dashoffset="6.5"/>
<path d="M401.50,303.50 L402.31,303.46 L403.11,303.42 L403.92,303.38 L404.72,303.34 L405.53,303.30 L406.33,303.25 L407.14,303.20 L407.95,303.15 L408.75,303.10 L409.56,303.04 L410.36,302.99 L411.17,302.93 L411.98,302.87 L412.78,302.81 L413.59,302.74 L414.39,302.68 L415.20,302.61 L416.00,302.54 L416.81,302.47 L417.62,302.39 L418.42,302.32 L419.23,302.24 L420.03,302.16 L420.84,302.07 L421.65,301.99 L422.45,301.90 L423.26,301.81 L424.06,301.72 L424.87,301.62 L425.67,301.52 L426.48,301.43 L427.29,301.32 L428.09,301.22 L428.90,301.11 L429.70,301.00 L430.51,300.89 L431.31,300.78 L432.12,300.66 L432.93,300.54 L433.73,300.42 L434.54,300.30 L435.34,300.17 L436.15,300.04 L436.96,299.91 L437.76,299.77 L438.57,299.63 L439.37,299.49 L440.18,299.35 L440.98,299.21 L441.79,299.06 L442.60,298.91 L443.40,298.75 L444.21,298.60 L445.01,298.44 L445.82,298.28 L446.63,298.11 L447.43,297.94 L448.24,297.77 L449.04,297.60 L449.85,297.42 L450.65,297.24 L451.46,297.06 L452.27,296.88 L453.07,296.69 L453.88,296.50 L454.68,296.30 L455.49,296.10 L456.29,295.90 L457.10,295.70 L457.91,295.49 L458.71,295.28 L459.52,295.07 L460.32,294.86 L461.13,294.64 L461.94,294.42 L462.74,294.19 L463.55,293.96 L464.35,293.73 L465.16,293.50 L465.96,293.26 L466.77,293.02 L467.58,292.77 L468.38,292.52 L469.19,292.27 L469.99,292.02 L470.80,291.76 L471.61,291.50 L472.41,291.24 L473.22,290.97 L474.02,290.70 L474.83,290.42 L475.63,290.14 L476.44,289.86 L477.25,289.58 L478.05,289.29 L478.86,289.00 L479.66,288.70 L480.47,288.41 L481.27,288.10 L482.08,287.80 L482.89,287.49 L483.69,287.18 L484.50,286.86 L485.30,286.54 L486.11,286.22 L486.92,285.89 L487.72,285.56 L488.53,285.23 L489.33,284.89 L490.14,284.55 L490.94,284.20 L491.75,283.86 L492.56,283.50 L493.36,283.15 L494.17,282.79 L494.97,282.43 L495.78,282.06 L496.59,281.69 L497.39,281.32 L498.20,280.94 L499.00,280.56 L499.81,280.17 L500.61,279.78 L501.42,279.39 L502.23,278.99 L503.03,278.59 L503.84,278.19 L504.64,277.78 L505.45,277.37 L506.25,276.96 L507.06,276.54 L507.87,276.11 L508.67,275.69 L509.48,275.26 L510.28,274.82 L511.09,274.38 L511.90,273.94 L512.70,273.50 L513.51,273.05 L514.31,272.59 L515.12,272.14 L515.92,271.68 L516.73,271.21 L517.54,270.74 L518.34,270.27 L519.15,269.79 L519.95,269.31 L520.76,268.83 L521.56,268.34 L522.37,267.85 L523.18,267.35 L523.98,266.85 L524.79,266.35 L525.59,265.84 L526.40,265.33 L527.21,264.81 L528.01,264.29 L528.82,263.77 L529.62,263.24 L530.43,262.71 L531.23,262.18 L532.04,261.64 L532.85,261.10 L533.65,260.55 L534.46,260.00 L535.26,259.44 L536.07,258.89 L536.88,258.32 L537.68,257.76 L538.61,257.10 L539.53,256.44 L540.46,255.78 L541.38,255.11 L542.31,254.43 L543.23,253.75 L544.16,253.06 L545.08,252.37 L546.01,251.68 L546.93,250.97 L547.86,250.27 L548.78,249.56 L549.59,248.93 L550.40,248.30 L551.21,247.66 L552.02,247.02 L552.83,246.38 L553.65,245.73 L554.46,245.08 L555.27,244.43 L556.08,243.77 L556.89,243.10 L557.70,242.44 L558.51,241.77 L559.32,241.09 L560.13,240.41 L560.94,239.73 L561.75,239.04 L562.56,238.36 L563.37,237.66 L564.18,236.96 L564.99,236.26 L565.80,235.56 L566.61,234.85 L567.42,234.14 L568.24,233.42 L569.05,232.70 L569.86,231.98 L570.67,231.25 L571.48,230.52 L572.29,229.78 L573.10,229.04 L573.91,228.30 L574.72,227.55 L575.53,226.80 L576.34,226.05 L577.15,225.29 L577.96,224.53 L578.77,223.77 L579.58,223.00 L580.39,222.23 L581.20,221.45 L582.01,220.67 L582.82,219.89 L583.64,219.11 L584.45,218.32 L585.26,217.52 L586.07,216.73 L586.88,215.93 L587.69,215.12 L588.50,214.32 L589.31,213.51 L590.12,212.69 L590.93,211.88 L591.74,211.05 L592.55,210.23 L593.36,209.40 L594.17,208.57 L594.98,207.74 L595.79,206.90 L596.60,206.06 L597.41,205.22 L598.22,204.37 L599.04,203.52 L599.85,202.67 L600.66,201.81 L601.47,200.95 L602.28,200.09 L603.09,199.23 L603.90,198.36 L604.71,197.48 L605.52,196.61 L606.33,195.73 L607.14,194.85 L607.95,193.97 L608.76,193.08 L609.57,192.19 L610.38,191.30 L611.19,190.40 L612.00,189.51 L612.81,188.60 L613.63,187.70 L614.44,186.79 L615.25,185.88 L616.06,184.97 L616.87,184.06 L617.68,183.14 L618.49,182.22 L619.30,181.30 L620.11,180.37 L620.92,179.45 L621.73,178.52 L622.54,177.58 L623.35,176.65 L624.16,175.71 L625.01,174.72 L625.86,173.74 L626.71,172.74 L627.56,171.75 L628.42,170.75 L629.27,169.75 L630.12,168.75 L630.97,167.75 L631.82,166.74 L632.67,165.74 L633.52,164.72 L634.37,163.71 L635.22,162.70 L636.07,161.68 L636.92,160.66 L637.77,159.64 L638.62,158.62 L639.47,157.59 L640.28,156.61 L641.09,155.63 L641.90,154.65 L642.72,153.67 L643.53,152.68 L644.34,151.70 L645.15,150.71 L645.96,149.72 L646.77,148.73 L647.58,147.74 L648.39,146.74 L649.20,145.75 L650.01,144.75 L650.82,143.75 L651.63,142.76 L652.44,141.76 L653.25,140.75 L654.06,139.75 L654.87,138.75 L655.68,137.75 L656.49,136.74 L657.30,135.74 L658.11,134.73 L658.92,133.72 L659.73,132.71 L660.54,131.70 L661.35,130.70 L662.16,129.69 L662.97,128.68 L663.78,127.66 L664.59,126.65 L665.40,125.64 L666.21,124.63 L667.02,123.62 L667.83,122.60 L668.64,121.59 L669.45,120.58 L670.26,119.56 L671.07,118.55 L671.88,117.54 L672.69,116.52 L673.50,115.51 L674.32,114.50 L675.13,113.48 L675.94,112.47 L676.75,111.46 L677.56,110.45 L678.37,109.44 L679.18,108.42 L679.99,107.41 L680.80,106.40 L681.61,105.39 L682.42,104.39 L683.23,103.38 L684.04,102.37 L684.85,101.37 L685.66,100.36 L686.47,99.36 L687.28,98.35 L688.09,97.35 L688.90,96.35 L689.71,95.35 L690.52,94.35 L691.33,93.35 L692.14,92.36 L692.95,91.36 L693.76,90.37 L694.57,89.38 L695.38,88.39 L696.19,87.40 L697.00,86.42 L697.81,85.43 L698.62,84.45 L699.43,83.47 L700.24,82.49 L701.05,81.52 L701.86,80.55 L702.67,79.57 L703.48,78.61 L704.29,77.64 L705.11,76.67 L705.92,75.71 L706.73,74.75 L707.54,73.80 L708.35,72.84 L709.16,71.89 L709.97,70.95 L710.78,70.00 L711.59,69.06 L712.40,68.12 L713.21,67.18 L714.02,66.25 L714.83,65.32 L715.64,64.40 L716.45,63.48 L717.26,62.56 L718.07,61.64 L718.88,60.73 L719.69,59.82 L720.50,58.92" stroke="#008b00" stroke-width="1.8" stroke-dasharray="7.5 4.4" stroke-dashoffset="0"/>
<path d="M401.50,34.31 L402.31,35.03 L403.11,35.75 L403.92,36.46 L404.72,37.17 L405.53,37.87 L406.33,38.58 L407.14,39.28 L407.95,39.98 L408.75,40.67 L409.56,41.36 L410.36,42.05 L411.17,42.73 L411.98,43.41 L412.78,44.09 L413.59,44.76 L414.39,45.43 L415.20,46.10 L416.00,46.77 L416.81,47.43 L417.62,48.08 L418.42,48.74 L419.23,49.39 L420.03,50.03 L420.84,50.67 L421.65,51.31 L422.45,51.95 L423.26,52.59 L424.06,53.22 L424.87,53.86 L425.67,54.49 L426.48,55.11 L427.29,55.74 L428.09,56.36 L428.90,56.98 L429.70,57.60 L430.51,58.21 L431.31,58.81 L432.12,59.42 L432.93,60.01 L433.73,60.61 L434.54,61.19 L435.34,61.78 L436.15,62.35 L436.96,62.92 L437.76,63.49 L438.57,64.04 L439.37,64.59 L440.18,65.13 L440.98,65.67 L441.79,66.20 L442.60,66.72 L443.40,67.23 L444.21,67.73 L445.01,68.23 L445.82,68.72 L446.63,69.22 L447.43,69.71 L448.24,70.20 L449.04,70.69 L449.85,71.17 L450.65,71.65 L451.46,72.13 L452.27,72.60 L453.07,73.06 L453.88,73.52 L454.68,73.97 L455.49,74.41 L456.29,74.84 L457.10,75.26 L457.91,75.67 L458.71,76.07 L459.52,76.46 L460.32,76.83 L461.13,77.20 L461.94,77.55 L462.74,77.88 L463.55,78.21 L464.35,78.51 L465.16,78.80 L465.96,79.07 L466.77,79.33 L467.58,79.57 L468.38,79.80 L469.19,80.02 L469.99,80.24 L470.80,80.45 L471.61,80.65 L472.41,80.84 L473.22,81.02 L474.02,81.19 L474.83,81.34 L475.63,81.48 L476.44,81.60 L477.25,81.71 L478.05,81.79 L478.86,81.86 L479.66,81.90 L480.47,81.92 L481.27,81.92 L482.08,81.89 L482.89,81.84 L483.69,81.78 L484.50,81.72 L485.30,81.66 L486.11,81.59 L486.92,81.51 L487.72,81.42 L488.53,81.32 L489.33,81.21 L490.14,81.09 L490.94,80.95 L491.75,80.79 L492.56,80.61 L493.36,80.42 L494.17,80.20 L494.97,79.96 L495.78,79.69 L496.59,79.39 L497.39,79.07 L498.20,78.72 L499.00,78.36 L499.81,77.99 L500.61,77.61 L501.42,77.24 L502.23,76.85 L503.03,76.47 L503.84,76.07 L504.64,75.68 L505.45,75.27 L506.25,74.86 L507.06,74.45 L507.87,74.03 L508.67,73.61 L509.48,73.18 L510.28,72.75 L511.09,72.28 L511.90,71.79 L512.70,71.27 L513.51,70.73 L514.31,70.17 L515.12,69.59 L515.92,69.00 L516.73,68.39 L517.54,67.78 L518.34,67.16 L519.15,66.54 L519.95,65.92 L520.76,65.30 L521.56,64.68 L522.37,64.05 L523.18,63.41 L523.98,62.76 L524.79,62.09 L525.59,61.42 L526.40,60.75 L527.21,60.07 L528.01,59.39 L528.82,58.71 L529.62,58.02 L530.43,57.34 L531.23,56.66 L532.04,55.99 L532.85,55.31 L533.65,54.64 L534.46,53.96 L535.26,53.29 L536.07,52.61 L536.88,51.94 L537.68,51.26 L538.61,51.52 L539.53,51.81 L540.46,52.11 L541.38,52.43 L542.31,52.76 L543.23,53.11 L544.16,53.48 L545.08,53.86 L546.01,54.27 L546.93,54.69 L547.86,55.14 L548.78,55.59 L549.59,57.86 L550.40,60.09 L551.21,62.27 L552.02,64.41 L552.83,66.50 L553.65,68.53 L554.46,70.51 L555.27,72.43 L556.08,74.32 L556.89,76.18 L557.70,78.00 L558.51,79.78 L559.32,81.51 L560.13,83.20 L560.94,84.83 L561.75,86.42 L562.56,87.94 L563.37,89.42 L564.18,90.86 L564.99,92.27 L565.80,93.63 L566.61,94.96 L567.42,96.26 L568.24,97.54 L569.05,98.78 L569.86,100.01 L570.67,101.21 L571.48,102.39 L572.29,103.56 L573.10,104.72 L573.91,105.85 L574.72,106.95 L575.53,108.01 L576.34,109.05 L577.15,110.07 L577.96,111.08 L578.77,112.08 L579.58,113.08 L580.39,114.08 L581.20,115.09 L582.01,116.12 L582.82,117.14 L583.64,118.14 L584.45,119.10 L585.26,119.98 L586.07,120.85 L586.88,121.68 L587.69,122.46 L588.50,123.16 L589.31,123.76 L590.12,124.26 L590.93,124.68 L591.74,125.04 L592.55,125.35 L593.36,125.63 L594.17,125.88 L594.98,126.14 L595.79,126.40 L596.60,126.68 L597.41,126.98 L598.22,127.28 L599.04,127.59 L599.85,127.89 L600.66,128.18 L601.47,128.46 L602.28,128.73 L603.09,128.97 L603.90,129.18 L604.71,129.36 L605.52,129.50 L606.33,129.60 L607.14,129.65 L607.95,129.65 L608.76,129.61 L609.57,129.54 L610.38,129.44 L611.19,129.31 L612.00,129.15 L612.81,128.98 L613.63,128.80 L614.44,128.60 L615.25,128.39 L616.06,128.18 L616.87,127.97 L617.68,127.76 L618.49,127.53 L619.30,127.29 L620.11,127.04 L620.92,126.78 L621.73,126.51 L622.54,126.23 L623.35,125.94 L624.16,125.63 L625.01,125.90 L625.86,126.14 L626.71,126.35 L627.56,126.52 L628.42,126.66 L629.27,126.74 L630.12,126.78 L630.97,126.79 L631.82,126.77 L632.67,126.74 L633.52,126.68 L634.37,126.59 L635.22,126.48 L636.07,126.34 L636.92,126.16 L637.77,125.96 L638.62,125.71 L639.47,125.44 L640.28,125.36 L641.09,125.27 L641.90,125.16 L642.72,125.05 L643.53,124.92 L644.34,124.77 L645.15,124.61 L645.96,124.44 L646.77,124.25 L647.58,124.04 L648.39,123.82 L649.20,123.57 L650.01,123.31 L650.82,123.03 L651.63,122.74 L652.44,122.44 L653.25,122.13 L654.06,121.81 L654.87,121.48 L655.68,121.15 L656.49,120.80 L657.30,120.44 L658.11,120.06 L658.92,119.68 L659.73,119.28 L660.54,118.87 L661.35,118.44 L662.16,118.00 L662.97,117.55 L663.78,117.08 L664.59,116.59 L665.40,116.09 L666.21,115.57 L667.02,115.05 L667.83,114.51 L668.64,113.96 L669.45,113.40 L670.26,112.83 L671.07,112.24 L671.88,111.64 L672.69,111.02 L673.50,110.39 L674.32,109.74 L675.13,109.08 L675.94,108.42 L676.75,107.76 L677.56,107.10 L678.37,106.43 L679.18,105.75 L679.99,105.06 L680.80,104.36 L681.61,103.63 L682.42,102.89 L683.23,102.13 L684.04,101.33 L684.85,100.52 L685.66,99.67 L686.47,98.82 L687.28,97.96 L688.09,97.09 L688.90,96.21 L689.71,95.29 L690.52,94.34 L691.33,93.35 L692.14,92.33 L692.95,91.29 L693.76,90.23 L694.57,89.15 L695.38,88.06 L696.19,86.96 L697.00,85.86 L697.81,84.75 L698.62,83.64 L699.43,82.51 L700.24,81.35 L701.05,80.16 L701.86,78.95 L702.67,77.73 L703.48,76.48 L704.29,75.22 L705.11,73.94 L705.92,72.64 L706.73,71.33 L707.54,69.98 L708.35,68.59 L709.16,67.17 L709.97,65.71 L710.78,64.22 L711.59,62.71 L712.40,61.15 L713.21,59.57 L714.02,57.97 L714.83,56.33 L715.64,54.66 L716.45,52.98 L717.26,51.26 L718.07,49.52 L718.88,47.76 L719.69,45.97 L720.50,44.17" stroke="#f00" stroke-width="1.8"/>
</g>
<!-- frames & ticks -->
<g fill="none" stroke="#141414" stroke-width="1.3">
<path d="M82.23,303.8 v-6.65 M82.23,8.0 v6.65 M98.17,303.8 v-6.65 M98.17,8.0 v6.65 M114.10,303.8 v-6.65 M114.10,8.0 v6.65 M130.04,303.8 v-13.3 M130.04,8.0 v13.3 M145.98,303.8 v-6.65 M145.98,8.0 v6.65 M161.91,303.8 v-6.65 M161.91,8.0 v6.65 M177.85,303.8 v-6.65 M177.85,8.0 v6.65 M193.78,303.8 v-13.3 M193.78,8.0 v13.3 M209.71,303.8 v-6.65 M209.71,8.0 v6.65 M225.65,303.8 v-6.65 M225.65,8.0 v6.65 M241.58,303.8 v-6.65 M241.58,8.0 v6.65 M257.52,303.8 v-13.3 M257.52,8.0 v13.3 M273.45,303.8 v-6.65 M273.45,8.0 v6.65 M289.39,303.8 v-6.65 M289.39,8.0 v6.65 M305.32,303.8 v-6.65 M305.32,8.0 v6.65 M321.26,303.8 v-13.3 M321.26,8.0 v13.3 M337.19,303.8 v-6.65 M337.19,8.0 v6.65 M353.13,303.8 v-6.65 M353.13,8.0 v6.65 M369.07,303.8 v-6.65 M369.07,8.0 v6.65 M66.3,289.01 h6.65 M385.0,289.01 h-6.65 M66.3,274.22 h6.65 M385.0,274.22 h-6.65 M66.3,259.43 h6.65 M385.0,259.43 h-6.65 M66.3,244.64 h6.65 M385.0,244.64 h-6.65 M66.3,229.85 h13.3 M385.0,229.85 h-13.3 M66.3,215.06 h6.65 M385.0,215.06 h-6.65 M66.3,200.27 h6.65 M385.0,200.27 h-6.65 M66.3,185.48 h6.65 M385.0,185.48 h-6.65 M66.3,170.69 h6.65 M385.0,170.69 h-6.65 M66.3,155.90 h13.3 M385.0,155.90 h-13.3 M66.3,141.11 h6.65 M385.0,141.11 h-6.65 M66.3,126.32 h6.65 M385.0,126.32 h-6.65 M66.3,111.53 h6.65 M385.0,111.53 h-6.65 M66.3,96.74 h6.65 M385.0,96.74 h-6.65 M66.3,81.95 h13.3 M385.0,81.95 h-13.3 M66.3,67.16 h6.65 M385.0,67.16 h-6.65 M66.3,52.37 h6.65 M385.0,52.37 h-6.65 M66.3,37.58 h6.65 M385.0,37.58 h-6.65 M66.3,22.79 h6.65 M385.0,22.79 h-6.65"/>
<path d="M417.19,303.8 v-6.65 M417.19,8.0 v6.65 M433.13,303.8 v-6.65 M433.13,8.0 v6.65 M449.07,303.8 v-6.65 M449.07,8.0 v6.65 M465.01,303.8 v-13.3 M465.01,8.0 v13.3 M480.95,303.8 v-6.65 M480.95,8.0 v6.65 M496.89,303.8 v-6.65 M496.89,8.0 v6.65 M512.83,303.8 v-6.65 M512.83,8.0 v6.65 M528.77,303.8 v-13.3 M528.77,8.0 v13.3 M544.71,303.8 v-6.65 M544.71,8.0 v6.65 M560.65,303.8 v-6.65 M560.65,8.0 v6.65 M576.59,303.8 v-6.65 M576.59,8.0 v6.65 M592.53,303.8 v-13.3 M592.53,8.0 v13.3 M608.47,303.8 v-6.65 M608.47,8.0 v6.65 M624.41,303.8 v-6.65 M624.41,8.0 v6.65 M640.35,303.8 v-6.65 M640.35,8.0 v6.65 M656.29,303.8 v-13.3 M656.29,8.0 v13.3 M672.23,303.8 v-6.65 M672.23,8.0 v6.65 M688.17,303.8 v-6.65 M688.17,8.0 v6.65 M704.11,303.8 v-6.65 M704.11,8.0 v6.65 M401.25,289.01 h6.65 M720.05,289.01 h-6.65 M401.25,274.22 h6.65 M720.05,274.22 h-6.65 M401.25,259.43 h6.65 M720.05,259.43 h-6.65 M401.25,244.64 h6.65 M720.05,244.64 h-6.65 M401.25,229.85 h13.3 M720.05,229.85 h-13.3 M401.25,215.06 h6.65 M720.05,215.06 h-6.65 M401.25,200.27 h6.65 M720.05,200.27 h-6.65 M401.25,185.48 h6.65 M720.05,185.48 h-6.65 M401.25,170.69 h6.65 M720.05,170.69 h-6.65 M401.25,155.90 h13.3 M720.05,155.90 h-13.3 M401.25,141.11 h6.65 M720.05,141.11 h-6.65 M401.25,126.32 h6.65 M720.05,126.32 h-6.65 M401.25,111.53 h6.65 M720.05,111.53 h-6.65 M401.25,96.74 h6.65 M720.05,96.74 h-6.65 M401.25,81.95 h13.3 M720.05,81.95 h-13.3 M401.25,67.16 h6.65 M720.05,67.16 h-6.65 M401.25,52.37 h6.65 M720.05,52.37 h-6.65 M401.25,37.58 h6.65 M720.05,37.58 h-6.65 M401.25,22.79 h6.65 M720.05,22.79 h-6.65"/>
</g>
<g fill="none" stroke="#141414" stroke-width="1.6" stroke-linejoin="round">
<rect x="66.3" y="8.0" width="318.70" height="295.80"/>
<rect x="401.25" y="8.0" width="318.80" height="295.80"/>
</g>
<!-- tick labels -->
<text x="66.30" y="324.1" text-anchor="middle">0</text>
<text x="130.04" y="324.1" text-anchor="middle">0.2</text>
<text x="193.78" y="324.1" text-anchor="middle">0.4</text>
<text x="257.52" y="324.1" text-anchor="middle">0.6</text>
<text x="321.76" y="324.1" text-anchor="middle">0.8</text>
<text x="386.50" y="324.1" text-anchor="middle">1</text>
<text x="401.25" y="324.1" text-anchor="middle">0</text>
<text x="465.01" y="324.1" text-anchor="middle">0.2</text>
<text x="528.77" y="324.1" text-anchor="middle">0.4</text>
<text x="592.53" y="324.1" text-anchor="middle">0.6</text>
<text x="656.29" y="324.1" text-anchor="middle">0.8</text>
<text x="720.85" y="324.1" text-anchor="middle">1</text>
<text x="60.4" y="310.45" text-anchor="end">0</text>
<text x="60.4" y="236.50" text-anchor="end">10</text>
<text x="60.4" y="162.55" text-anchor="end">20</text>
<text x="60.4" y="88.60" text-anchor="end">30</text>
<text x="60.4" y="14.65" text-anchor="end">40</text>
<!-- legends -->
<rect x="72.9" y="21.4" width="247.6" height="95.7" fill="#fff" stroke="#1c1c1c" stroke-width="1.15"/>
<g fill="none">
<path d="M80.9,35.55 H107.5" stroke="#f00" stroke-width="3.25"/>
<path d="M80.8,58.4 H107.4" stroke="#00f" stroke-width="1.3"/>
<path d="M80.8,81 H107.4" stroke="#f00" stroke-width="3.25" stroke-dasharray="14.8 8.7"/>
<path d="M80.8,103.6 H107.4" stroke="#00f" stroke-width="1.3" stroke-dasharray="4.8 3.1"/>
</g>
<text x="120.8" y="41">solar (B SSM) + Kamland</text>
<text x="120.8" y="63.6">solar (B SSM)</text>
<text x="120.8" y="86.2">solar (B free) + Kamland</text>
<text x="120.8" y="108.8">solar (B free)</text>

<rect x="579.6" y="20.6" width="164.8" height="72" fill="#fff" stroke="#1c1c1c" stroke-width="1.15"/>
<g fill="none">
<path d="M586.6,34.0 H619.3" stroke="#00f" stroke-width="1.8" stroke-dasharray="1.5 4.5 7.7 4.0"/>
<path d="M586.6,55 H619.3" stroke="#008b00" stroke-width="1.8" stroke-dasharray="7.5 4.4"/>
<path d="M586.6,77.9 H619.3" stroke="#f00" stroke-width="1.8"/>
</g>
<text x="632.5" y="40.2">atm+SBL</text>
<text x="632.5" y="60">solar (B SSM)</text>
<text x="632.5" y="82">global</text>

<!-- annotations -->
<text class="sans" x="95.0" y="251.3" style="font-size:14.3px">99% CL</text>
<g transform="translate(429.1,110.2) scale(1.0,1.0)" fill="none" stroke="#f00" stroke-linecap="round" stroke-linejoin="round"><path d="M0.5,2.3 C0.6,1.0 1.3,0.55 2.0,0.6 C3.0,0.7 3.4,1.8 3.9,3.2 L6.0,9.6 C6.5,11.0 6.9,11.8 7.6,11.8 C8.2,11.8 8.5,11.3 8.5,10.6" stroke-width="1.45"/><path d="M8.2,0.5 L0.8,12.0" stroke-width="0.95"/></g><text class="sans" x="438.3" y="108.8" style="font-size:12px;fill:#f00">2</text><text class="sans" x="438.0" y="125.7" style="font-size:12px;fill:#f00">PG</text>
<g transform="translate(427.1,193.2) scale(1.0,1.0)" fill="none" stroke="#0a8c0a" stroke-linecap="round" stroke-linejoin="round"><path d="M0.5,2.3 C0.6,1.0 1.3,0.55 2.0,0.6 C3.0,0.7 3.4,1.8 3.9,3.2 L6.0,9.6 C6.5,11.0 6.9,11.8 7.6,11.8 C8.2,11.8 8.5,11.3 8.5,10.6" stroke-width="1.45"/><path d="M8.2,0.5 L0.8,12.0" stroke-width="0.95"/></g><text class="sans" x="436.3" y="191.8" style="font-size:12px;fill:#0a8c0a">2</text><text class="sans" x="436.0" y="208.7" style="font-size:12px;fill:#0a8c0a">PC</text>
<!-- axis labels -->
<g transform="translate(217.9,347.35)" fill="none" stroke="#000" stroke-linecap="butt" stroke-linejoin="round"><path d="M0.3,2.6 C0.5,1.4 1.3,0.6 2.5,0.6 C3.1,0.6 3.3,1.0 3.3,1.6" stroke-width="0.95"/><path d="M3.3,1.0 L3.3,10.2" stroke-width="1.8"/><path d="M4.0,3.0 C4.8,1.4 5.9,0.7 7.0,0.7 C8.3,0.7 8.8,1.6 8.8,3.2 L8.8,14.2" stroke-width="1.6"/></g><text x="228.6" y="364.7" style="font-size:12.5px">s</text>
<g transform="translate(552.9,347.35)" fill="none" stroke="#000" stroke-linecap="butt" stroke-linejoin="round"><path d="M0.3,2.6 C0.5,1.4 1.3,0.6 2.5,0.6 C3.1,0.6 3.3,1.0 3.3,1.6" stroke-width="0.95"/><path d="M3.3,1.0 L3.3,10.2" stroke-width="1.8"/><path d="M4.0,3.0 C4.8,1.4 5.9,0.7 7.0,0.7 C8.3,0.7 8.8,1.6 8.8,3.2 L8.8,14.2" stroke-width="1.6"/></g><text x="563.6" y="364.7" style="font-size:12.5px">s</text>
<text transform="translate(22.3,169.7) rotate(-90)" style="font-size:18.6px">Δ</text>
<g transform="translate(12.2,158.1) rotate(-90) scale(1.04,1.145)" fill="none" stroke="#000" stroke-linecap="round" stroke-linejoin="round"><path d="M0.5,2.3 C0.6,1.0 1.3,0.55 2.0,0.6 C3.0,0.7 3.4,1.8 3.9,3.2 L6.0,9.6 C6.5,11.0 6.9,11.8 7.6,11.8 C8.2,11.8 8.5,11.3 8.5,10.6" stroke-width="1.25"/><path d="M8.2,0.5 L0.8,12.0" stroke-width="1.15"/></g>
<text transform="translate(10.3,148.2) rotate(-90)" style="font-size:13px">2</text>
</svg>
</body></html>
